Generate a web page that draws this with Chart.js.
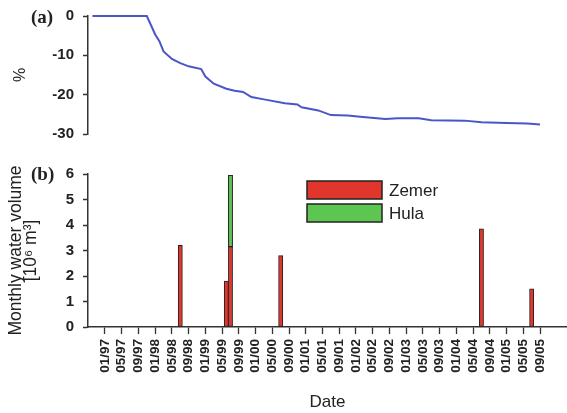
<!DOCTYPE html>
<html><head><meta charset="utf-8">
<script src="https://cdn.jsdelivr.net/npm/chart.js@4.4.0/dist/chart.umd.min.js"></script>
<style>
html,body{margin:0;padding:0;background:#fff;}
#wrap{position:relative;width:567px;height:413px;overflow:hidden;background:#fff;}
#top{position:absolute;left:0;top:0;}
#bot{position:absolute;left:0;top:150px;}
.panel{position:absolute;font:bold 19px "Liberation Serif",serif;line-height:20px;color:#222;}
</style></head><body>
<div id="wrap">
<canvas id="top" width="567" height="150"></canvas>
<canvas id="bot" width="567" height="263"></canvas>
<div class="panel" style="left:31px;top:7px">(a)</div>
<div class="panel" style="left:31px;top:164px">(b)</div>
</div>
<script>
// ---- data ----
const xTickLabels = ['01/97','05/97','09/97','01/98','05/98','09/98','01/99','05/99','09/99','01/00','05/00','09/00','01/01','05/01','09/01','01/02','05/02','09/02','01/03','05/03','09/03','01/04','05/04','09/04','01/05','05/05','09/05'];

const lineDates = ['10/96','11/97','01/98','02/98','03/98','05/98','07/98','09/98','12/98','01/99','03/99','06/99','08/99','10/99','12/99','03/00','08/00','11/00','12/00','04/01','07/01','11/01','02/02','04/02','08/02','11/02','04/03','07/03','03/04','07/04','01/05','06/05','09/05'];
const lineValues = [0,0,-4.7,-6.4,-9.0,-10.9,-12.0,-12.8,-13.5,-15.4,-17.2,-18.5,-19.0,-19.3,-20.6,-21.2,-22.2,-22.5,-23.2,-24.0,-25.2,-25.3,-25.6,-25.8,-26.2,-26.0,-26.0,-26.5,-26.6,-27.0,-27.2,-27.3,-27.6];

const zemerDates = ['07/98','06/99','07/99','07/00','07/04','07/05'];
const zemerValues = [3.2,1.8,3.15,2.8,3.85,1.5];
const hulaDates = ['07/99'];
const hulaValues = [2.8];

// ---- helpers ----
function toMonth(s){
  const [mm, yy] = s.split('/').map(Number);
  const year = yy < 50 ? 2000 + yy : 1900 + yy;
  return (year - 1997) * 12 + (mm - 1);
}
const pts = (dates, vals) => dates.map((d, i) => ({x: toMonth(d), y: vals[i]}));

const X_MIN = -4.064, X_MAX = 110.45;
const AXIS = '#333';
const TXT = '#222';
const FONT = '"Liberation Sans", Arial, sans-serif';

Chart.defaults.font.family = FONT;
Chart.defaults.color = TXT;

// ---- top chart (a) ----
new Chart(document.getElementById('top'), {
  type: 'line',
  data: {
    datasets: [{
      label: '%',
      data: pts(lineDates, lineValues),
      borderColor: '#4a55c8',
      borderWidth: 2,
      pointRadius: 0,
      tension: 0,
      fill: false,
      clip: false
    }]
  },
  options: {
    responsive: false,
    animation: false,
    layout: {padding: {top: 16, bottom: 16, left: 0, right: 0}},
    plugins: {legend: {display: false}, tooltip: {enabled: false}},
    scales: {
      x: {type: 'linear', display: false, offset: false, min: X_MIN, max: X_MAX},
      y: {
        min: -30, max: 0,
        ticks: {stepSize: 10, font: {size: 15, weight: 'bold'}, color: TXT, padding: 9},
        grid: {drawOnChartArea: false, drawTicks: true, tickLength: 5, tickColor: AXIS, tickWidth: 1.5},
        border: {display: true, color: AXIS, width: 1.5},
        title: {display: true, text: '%', font: {size: 16}, color: TXT, padding: {top: 11, bottom: 0}},
        afterFit: s => { s.width = 88; s.paddingTop = 0; s.paddingBottom = 0; }
      }
    }
  }
});

// ---- bottom chart (b) ----
const boxLegend = {
  id: 'boxLegend',
  afterDraw(chart, args, o) {
    const ctx = chart.ctx;
    chart.data.datasets.forEach((ds, i) => {
      const x = o.x, y = o.y + i * o.gap;
      ctx.save();
      ctx.fillStyle = ds.backgroundColor;
      ctx.fillRect(x, y, o.w, o.h);
      ctx.lineWidth = 1.5;
      ctx.strokeStyle = '#222';
      ctx.strokeRect(x, y, o.w, o.h);
      ctx.font = '17px ' + FONT;
      ctx.fillStyle = TXT;
      ctx.textBaseline = 'middle';
      ctx.fillText(ds.label, x + o.w + 7, y + o.h / 2 + 1);
      ctx.restore();
    });
  }
};

new Chart(document.getElementById('bot'), {
  type: 'bar',
  data: {
    datasets: [
      {label: 'Zemer', data: pts(zemerDates, zemerValues), backgroundColor: '#e0362b', borderColor: '#222', borderWidth: 1, borderSkipped: false, barThickness: 4.2},
      {label: 'Hula', data: pts(hulaDates, hulaValues), backgroundColor: '#5cc650', borderColor: '#222', borderWidth: 1, borderSkipped: false, barThickness: 4.2}
    ]
  },
  options: {
    responsive: false,
    animation: false,
    layout: {padding: {top: 24, bottom: 0, left: 0, right: 0}},
    plugins: {
      legend: {display: false}, tooltip: {enabled: false},
      boxLegend: {x: 307, y: 31, w: 75, h: 18, gap: 23}
    },
    scales: {
      x: {
        type: 'linear', stacked: true, offset: false, min: X_MIN, max: X_MAX,
        afterBuildTicks: s => { s.ticks = xTickLabels.map(l => ({value: toMonth(l)})); },
        ticks: {
          autoSkip: false, minRotation: 90, maxRotation: 90, padding: 5, labelOffset: 0,
          font: {size: 13.5, weight: 'bold'}, color: TXT,
          callback: (v, i) => xTickLabels[i]
        },
        grid: {offset: false, drawOnChartArea: false, drawTicks: true, tickLength: 7, tickColor: AXIS, tickWidth: 1.3},
        border: {display: true, color: AXIS, width: 1.5},
        title: {display: true, text: 'Date', font: {size: 17}, color: TXT, padding: {top: 0, bottom: 0}},
        afterFit: s => { s.height = 86; s.paddingLeft = 0; s.paddingRight = 0; }
      },
      y: {
        stacked: true, min: 0, max: 6,
        ticks: {stepSize: 1, font: {size: 15, weight: 'bold'}, color: TXT, padding: 9},
        grid: {drawOnChartArea: false, drawTicks: true, tickLength: 5, tickColor: AXIS, tickWidth: 1.5},
        border: {display: true, color: AXIS, width: 1.5},
        title: {display: true, text: ['Monthly water volume', '[10⁶ m³]'], font: {size: 17.5, lineHeight: 0.88}, color: TXT, padding: {top: 8, bottom: 0}},
        afterFit: s => { s.width = 88; s.paddingTop = 0; s.paddingBottom = 0; }
      }
    }
  },
  plugins: [boxLegend]
});
</script>
</body></html>
